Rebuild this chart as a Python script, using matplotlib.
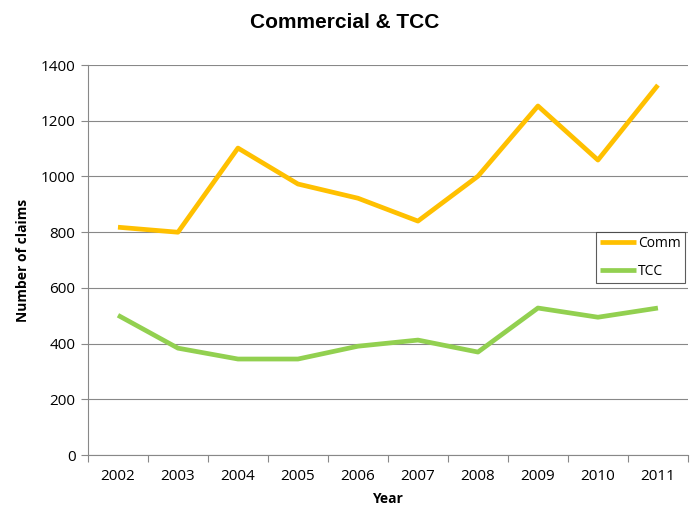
import matplotlib
matplotlib.use('Agg')
import matplotlib.pyplot as plt
from matplotlib.ticker import FixedLocator, NullFormatter

years = ['2002', '2003', '2004', '2005', '2006', '2007', '2008', '2009', '2010', '2011']
comm = [818, 800, 1102, 973, 922, 840, 1001, 1253, 1059, 1328]
tcc = [502, 384, 345, 345, 391, 413, 370, 528, 495, 528]

plt.rcParams['font.family'] = ['Open Sans', 'DejaVu Sans']

fig = plt.figure(figsize=(6.9, 5.12), dpi=100)
ax = fig.add_axes([0.1275, 0.111, 0.8695, 0.762])

x = list(range(len(years)))
ax.plot(x, comm, color='#FFC000', lw=3.4, label='Comm', solid_capstyle='butt')
ax.plot(x, tcc, color='#92D050', lw=3.4, label='TCC', solid_capstyle='butt')

ax.set_xlim(-0.5, len(years) - 0.5)
ax.set_ylim(0, 1400)
ax.set_yticks(range(0, 1401, 200))
ax.yaxis.grid(True, color='#888888', lw=0.8)
ax.set_axisbelow(True)

# category labels sit between the boundary ticks, Excel style
ax.xaxis.set_major_locator(FixedLocator([i - 0.5 for i in range(len(years) + 1)]))
ax.xaxis.set_major_formatter(NullFormatter())
ax.xaxis.set_minor_locator(FixedLocator(x))
ax.set_xticklabels(years, minor=True)
ax.tick_params(axis='x', which='minor', length=0, pad=10, labelsize=11)
ax.tick_params(axis='x', which='major', length=5, color='#888888')
ax.tick_params(axis='y', length=5, color='#888888', labelsize=11, pad=4)

for s in ['top', 'right']:
    ax.spines[s].set_visible(False)
for s in ['left', 'bottom']:
    ax.spines[s].set_color('#888888')
    ax.spines[s].set_linewidth(0.8)

ax.set_xlabel('Year', fontsize=10, fontweight='bold', labelpad=6)
ax.set_ylabel('Number of claims', fontsize=10, fontweight='bold', labelpad=8)
fig.suptitle('Commercial & TCC', fontsize=15, fontweight='bold', y=0.975,
             family=['Liberation Sans', 'DejaVu Sans'])

leg = fig.legend(loc='upper right', bbox_to_anchor=(0.993, 0.547), frameon=True,
                 fancybox=False, edgecolor='#333333', fontsize=10, handlelength=2.6,
                 handletextpad=0.15, labelspacing=0.9, borderpad=0.3, borderaxespad=0)
leg.get_frame().set_linewidth(0.8)

fig.savefig('out.png', dpi=100)
